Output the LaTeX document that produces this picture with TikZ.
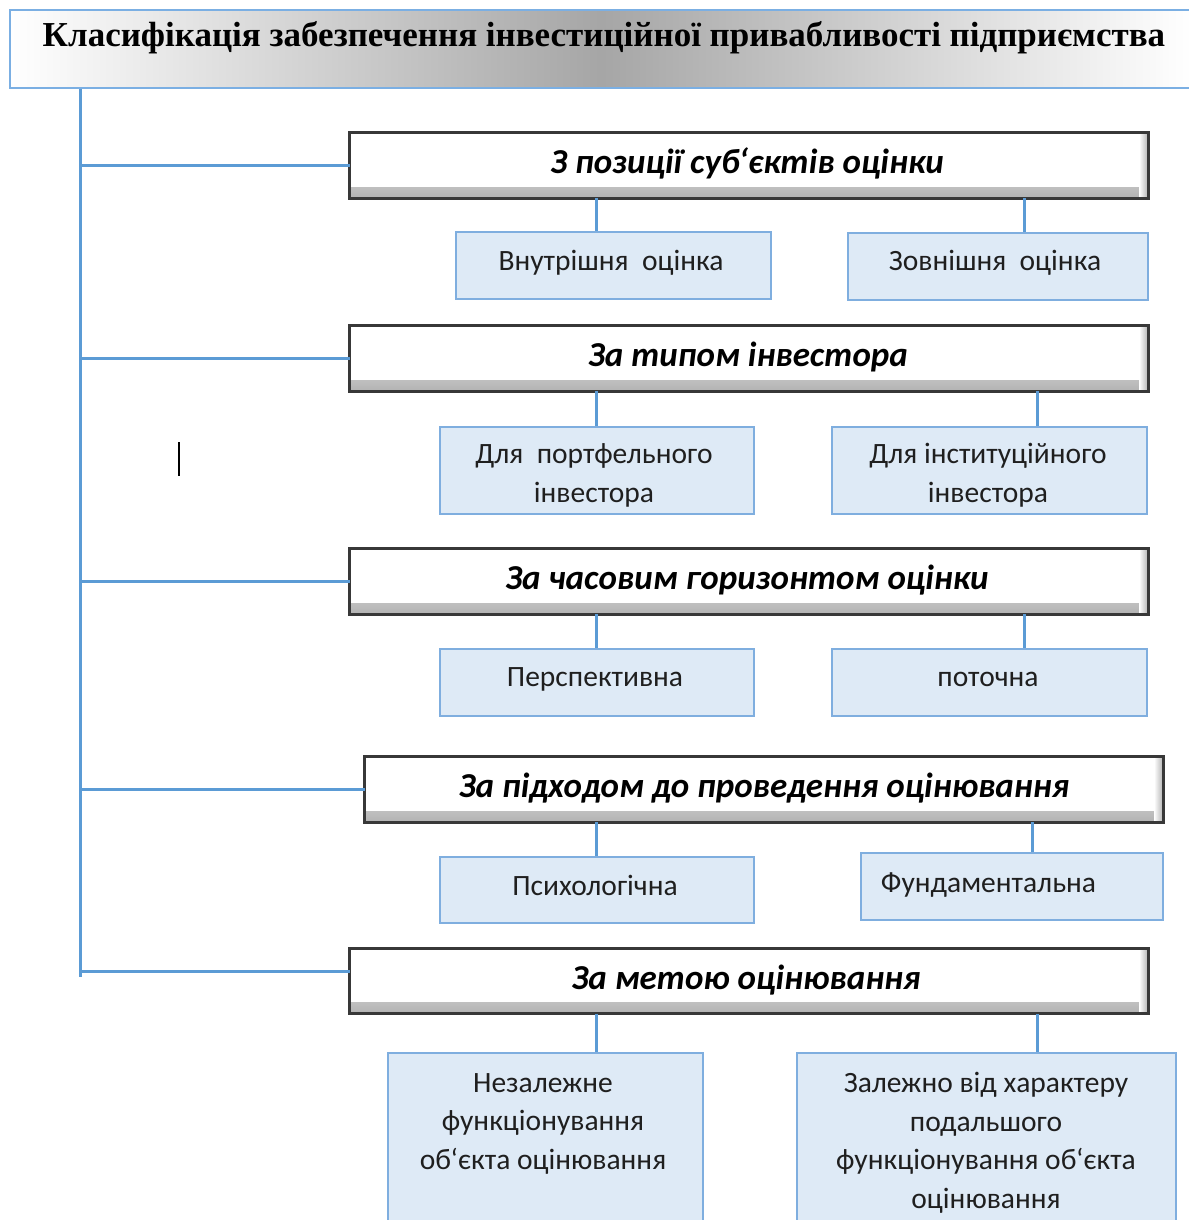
\documentclass[tikz,border=0pt]{standalone}
\usepackage{fontspec}
\newfontfamily\ttlfont{Liberation Serif}
\newfontfamily\calfont{Carlito}
\usetikzlibrary{calc}
\definecolor{lnblue}{HTML}{5B9BD5}
\definecolor{leafbd}{HTML}{7FAEDF}
\definecolor{leaffill}{HTML}{DEEAF6}
\definecolor{catbd}{HTML}{383838}
\definecolor{ttlbd}{HTML}{7BAFE3}
\begin{document}
\begin{tikzpicture}[x=1pt,y=-1pt,
  bl/.style={draw=lnblue, line width=3pt},
  leaf/.style={draw=leafbd, fill=leaffill, line width=1.5pt, inner sep=0pt},
  lt/.style={font=\calfont\fontsize{29.5}{38.5}\selectfont, text=black!88, align=center, inner sep=0pt, anchor=base},
  catbox/.style={fill=white, inner sep=0pt, minimum width=798pt, minimum height=65pt,
    path picture={
      \shade[top color=white, bottom color=black!30] ([yshift=11pt]path picture bounding box.south west) rectangle (path picture bounding box.south east);
      \shade[left color=white, right color=black!30] ([xshift=-9pt]path picture bounding box.south east) rectangle (path picture bounding box.north east);
    }},
  catline/.style={draw=catbd, line width=3pt},
  ct/.style={font=\calfont\bfseries\itshape\fontsize{35}{40}\selectfont, text=black, anchor=base, inner sep=0pt}
]
\useasboundingbox (0,0) rectangle (1188,1220);

% title
\node[draw=ttlbd, line width=2pt, left color=white, right color=white, middle color=black!35,
      minimum width=1182pt, minimum height=78pt, inner sep=0pt] (title) at (601,49) {};
\node[font=\ttlfont\bfseries\fontsize{35}{40}\selectfont, anchor=base, inner sep=0pt] (ttext) at (604,47)
  {Класифікація забезпечення інвестиційної привабливості підприємства};

% category boxes
\node[catbox] (c1) at (749,165.5) {};
\node[catbox] (c2) at (749,358.5) {};
\node[catbox] (c3) at (749,581.5) {};
\node[catbox] (c4) at (764,789.5) {};
\node[catbox] (c5) at (749,981) {};
\foreach \c in {c1,c2,c3,c4,c5}{
  \draw[catline] (\c.south west) rectangle (\c.north east);
}
\node[ct] (t1) at (747,173) {З позиції суб‘єктів оцінки};
\node[ct] (t2) at (748,366) {За типом інвестора};
\node[ct] (t3) at (747,589) {За часовим горизонтом оцінки};
\node[ct] (t4) at (764,797) {За підходом до проведення оцінювання};
\node[ct] (t5) at (746,989) {За метою оцінювання};

% leaves
\node[leaf, minimum width=315pt, minimum height=67pt] (l1a) at (613.5,265.5) {};
\node[leaf, minimum width=300pt, minimum height=67pt] (l1b) at (998,266.5) {};
\node[leaf, minimum width=314pt, minimum height=87pt] (l2a) at (597,470.5) {};
\node[leaf, minimum width=315pt, minimum height=87pt] (l2b) at (989.5,470.5) {};
\node[leaf, minimum width=314pt, minimum height=67pt] (l3a) at (597,682.5) {};
\node[leaf, minimum width=315pt, minimum height=67pt] (l3b) at (989.5,682.5) {};
\node[leaf, minimum width=314pt, minimum height=66pt] (l4a) at (597,890) {};
\node[leaf, minimum width=302pt, minimum height=67pt] (l4b) at (1012,886.5) {};
\node[leaf, minimum width=315pt, minimum height=190pt] (l5a) at (545.5,1148) {};
\node[leaf, minimum width=379pt, minimum height=190pt] (l5b) at (986.5,1148) {};

\node[lt] (s1a) at (611,270) {Внутрішня\ \ оцінка};
\node[lt] (s1b) at (995,270) {Зовнішня\ \ оцінка};
\node[lt] (s2a) at (594,502) {Для\ \ портфельного\\інвестора};
\node[lt] (s2b) at (988,502) {Для інституційного\\інвестора};
\node[lt] (s3a) at (595,686) {Перспективна};
\node[lt] (s3b) at (988,686) {поточна};
\node[lt] (s4a) at (595,895) {Психологічна};
\node[lt] (s4b) at (988.5,892) {Фундаментальна};
\node[lt] (s5a) at (543,1169) {Незалежне\\функціонування\\об‘єкта оцінювання};
\node[lt] (s5b) at (986,1208) {Залежно від характеру\\подальшого\\функціонування об‘єкта\\оцінювання};

% spine and branches
\coordinate (sp) at (80,0);
\coordinate (sb) at (80,977);
\coordinate (c5b) at ([yshift=10pt]c5.west);
\draw[bl] (title.south -| sp) -- (sb);
\draw[bl] (c1.west -| sp) -- (c1.west);
\draw[bl] (c2.west -| sp) -- (c2.west);
\draw[bl] (c3.west -| sp) -- (c3.west);
\draw[bl] (c4.west -| sp) -- (c4.west);
\draw[bl] (c5b -| sp) -- (c5b);

% connectors to leaves
\coordinate (xa) at (596,0);
\coordinate (x1) at (1024,0);
\coordinate (x2) at (1037,0);
\coordinate (x4) at (1032,0);
\draw[bl] (c1.south -| xa) -- (l1a.north -| xa);
\draw[bl] (c1.south -| x1) -- (l1b.north -| x1);
\draw[bl] (c2.south -| xa) -- (l2a.north -| xa);
\draw[bl] (c2.south -| x2) -- (l2b.north -| x2);
\draw[bl] (c3.south -| xa) -- (l3a.north -| xa);
\draw[bl] (c3.south -| x1) -- (l3b.north -| x1);
\draw[bl] (c4.south -| xa) -- (l4a.north -| xa);
\draw[bl] (c4.south -| x4) -- (l4b.north -| x4);
\draw[bl] (c5.south -| xa) -- (l5a.north -| xa);
\draw[bl] (c5.south -| x2) -- (l5b.north -| x2);

% stray text cursor
\draw[line width=2.5pt, black] (179,442) -- (179,476);
\end{tikzpicture}
\end{document}
